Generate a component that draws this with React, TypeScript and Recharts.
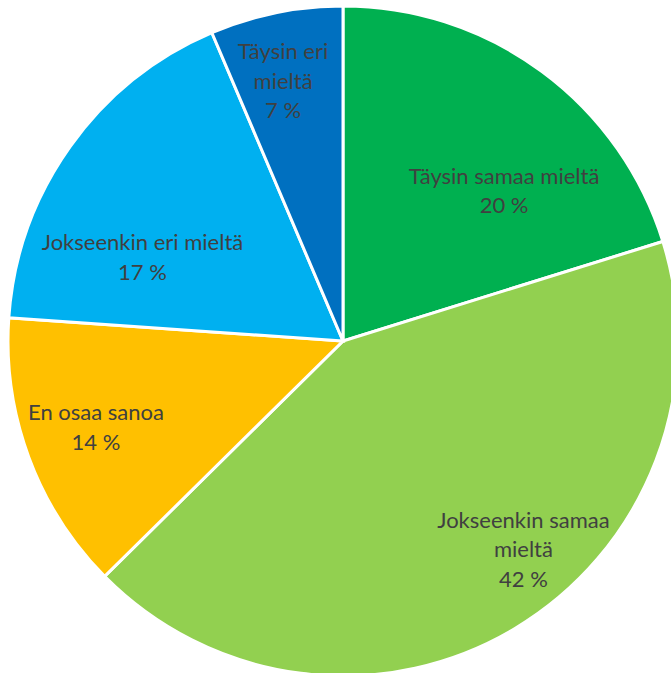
import { PieChart, Pie, Cell } from 'recharts'

// Answer distribution, clockwise from 12 o'clock
const CATEGORIES = [
  'Täysin samaa mieltä',
  'Jokseenkin samaa mieltä',
  'En osaa sanoa',
  'Jokseenkin eri mieltä',
  'Täysin eri mieltä',
]
const VALUES = [20.2, 42.4, 13.5, 17.5, 6.4]
const PERCENT_LABELS = ['20 %', '42 %', '14 %', '17 %', '7 %']
// label text split into lines as in the original
const LABEL_LINES = [
  ['Täysin samaa mieltä'],
  ['Jokseenkin samaa', 'mieltä'],
  ['En osaa sanoa'],
  ['Jokseenkin eri mieltä'],
  ['Täysin eri', 'mieltä'],
]

const COLORS = ['#00B050', '#92D050', '#FFC000', '#00B0F0', '#0070C0']

// label placement (Excel "best fit" look): radius fraction + angle shift
const LABEL_RADIUS = [0.66, 0.82, 0.78, 0.65, 0.8]
const LABEL_ANGLE_SHIFT = [-10.4, 10.1, -1.3, 12.5, 1.4]

const RAD = Math.PI / 180
const LINE_H = 29.5

const data = CATEGORIES.map((name, i) => ({ name, value: VALUES[i] }))

function renderLabel(props: any) {
  const { cx, cy, midAngle, outerRadius, index } = props
  const r = outerRadius * LABEL_RADIUS[index]
  const a = (midAngle + LABEL_ANGLE_SHIFT[index]) * RAD
  const x = cx + r * Math.cos(-a)
  const y = cy + r * Math.sin(-a)
  const lines = [...LABEL_LINES[index], PERCENT_LABELS[index]]
  const top = y - ((lines.length - 1) * LINE_H) / 2
  return (
    <text
      key={`lbl-${index}`}
      x={x}
      y={top}
      textAnchor="middle"
      dominantBaseline="central"
      fill="#404040"
      fontSize={22}
      fontFamily="Lato, 'Open Sans', sans-serif"
    >
      {lines.map((t, i) => (
        <tspan key={i} x={x} y={top + i * LINE_H}>
          {t}
        </tspan>
      ))}
    </text>
  )
}

export default function App() {
  return (
    <div style={{ position: 'absolute', left: 0, top: 0, width: 671, height: 673, background: '#fff', overflow: 'hidden' }}>
      <PieChart width={671} height={673} margin={{ top: 0, right: 0, bottom: 0, left: 0 }}>
        <Pie
          data={data}
          dataKey="value"
          nameKey="name"
          cx={343}
          cy={341}
          outerRadius={335}
          startAngle={90}
          endAngle={-270}
          stroke="#ffffff"
          strokeWidth={3}
          label={renderLabel}
          labelLine={false}
          isAnimationActive={false}
        >
          {data.map((_d, i) => (
            <Cell key={`cell-${i}`} fill={COLORS[i]} />
          ))}
        </Pie>
      </PieChart>
    </div>
  )
}
